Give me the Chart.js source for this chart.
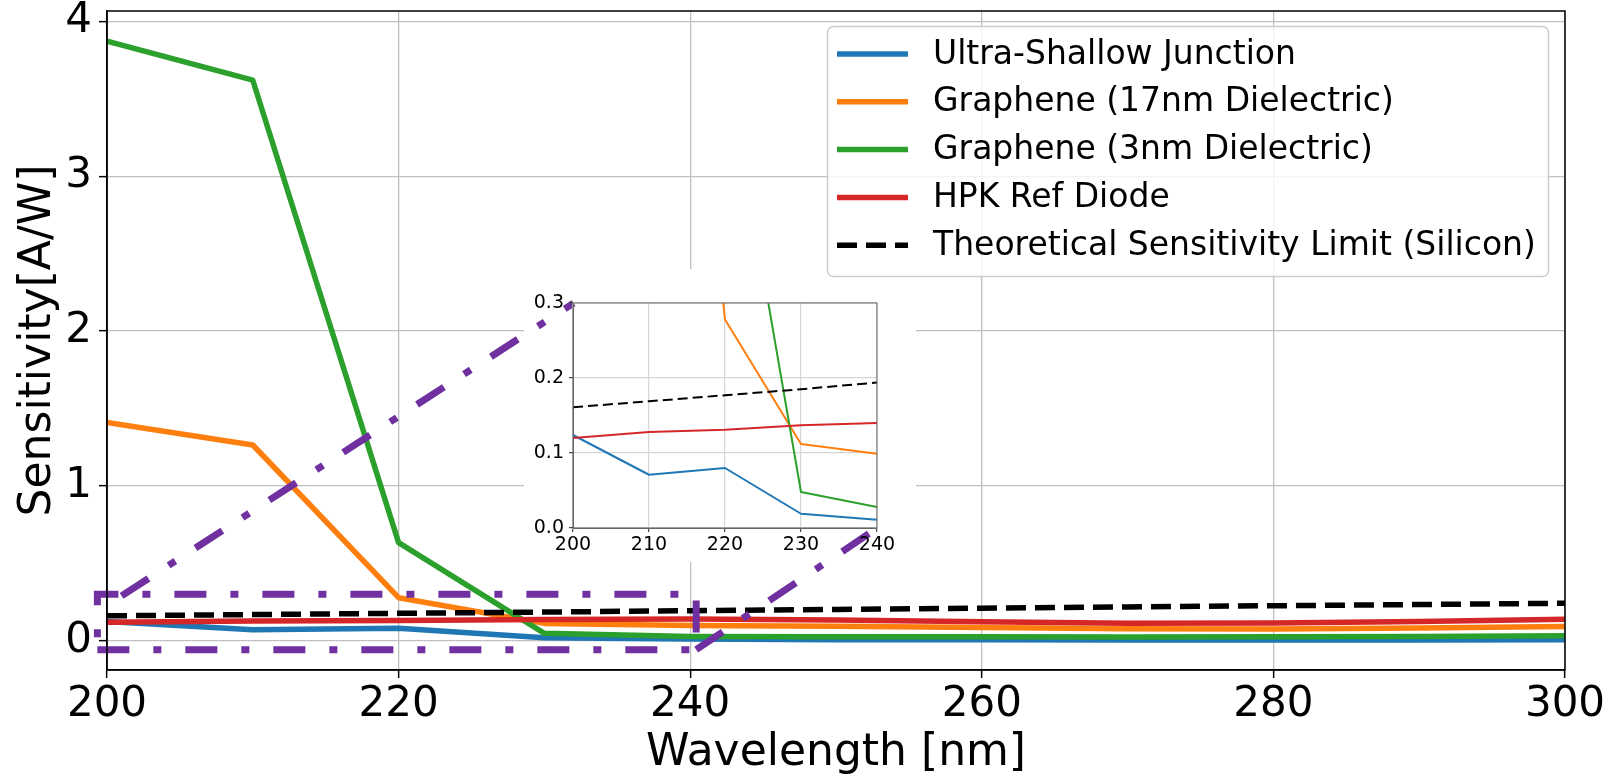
<!DOCTYPE html>
<html>
<head>
<meta charset="utf-8">
<title>Sensitivity vs Wavelength</title>
<script src="https://cdn.jsdelivr.net/npm/chart.js@4.4.1/dist/chart.umd.min.js"></script>
<style>
  html, body { margin: 0; padding: 0; background: #fff; }
  #wrap { position: relative; width: 1608px; height: 776px; }
  #main { position: absolute; left: 0; top: 0; }
  #inset { position: absolute; left: 524px; top: 269px; }
</style>
</head>
<body>
<div id="wrap">
  <canvas id="main" width="1608" height="776"></canvas>
  <canvas id="inset" width="392" height="293"></canvas>
</div>
<script>
// ── Data ───────────────────────────────────────────────────────────
const wavelengths = [200, 210, 220, 230, 240, 250, 260, 270, 280, 290, 300];

const usjValues        = [0.124, 0.071, 0.080, 0.019, 0.011, 0.007, 0.006, 0.005, 0.005, 0.005, 0.006];
const graphene17Values = [1.409, 1.264, 0.278, 0.112, 0.099, 0.093, 0.086, 0.077, 0.075, 0.082, 0.092];
const graphene3Values  = [3.873, 3.620, 0.634, 0.048, 0.028, 0.026, 0.025, 0.024, 0.025, 0.027, 0.032];
const hpkValues        = [0.120, 0.128, 0.131, 0.137, 0.140, 0.134, 0.123, 0.113, 0.115, 0.125, 0.138];
const limitValues      = [0.161, 0.169, 0.177, 0.185, 0.194, 0.202, 0.210, 0.218, 0.226, 0.234, 0.242];

const seriesNames = [
  'Ultra-Shallow Junction',
  'Graphene (17nm Dielectric)',
  'Graphene (3nm Dielectric)',
  'HPK Ref Diode',
  'Theoretical Sensitivity Limit (Silicon)'
];

// zoom box + connector lines, in main-axes data units
const zoomBoxX = [199.34, 240.41, 240.41, 199.34, 199.34];
const zoomBoxY = [-0.058, -0.058, 0.30, 0.30, -0.058];
const connectorAX = [201.0, 232.0];
const connectorAY = [0.29, 2.18];
const connectorBX = [240.41, 252.8];
const connectorBY = [-0.058, 0.726];

// ticks
const mainXTicks = [200, 220, 240, 260, 280, 300];
const mainYTicks = [0, 1, 2, 3, 4];
const insetXTicks = [200, 210, 220, 230, 240];
const insetYTicks = [0.0, 0.1, 0.2, 0.3];
const insetYLabels = ['0.0', '0.1', '0.2', '0.3'];

// ── Styles ─────────────────────────────────────────────────────────
const FONT = '"DejaVu Sans", sans-serif';
const seriesValues = [usjValues, graphene17Values, graphene3Values, hpkValues, limitValues];
const seriesColors = ['#1f77b4', '#ff7f0e', '#2ca02c', '#d62728', '#000000'];
const seriesOrder = [5, 4, 3, 2, 1];   // lower = drawn on top
const mainDash = [[], [], [], [], [20, 9]];
const insetDash = [[], [], [], [], [10, 5]];
const ZOOM_PURPLE = '#7030a0';
const GRID = '#c0c0c0';

function points(xs, ys) {
  return xs.map(function (x, i) { return { x: x, y: ys[i] }; });
}

function fixedTicks(values) {
  return function (scale) {
    scale.ticks = values.map(function (v) { return { value: v }; });
  };
}

function noPadding(scale) {
  scale.paddingTop = 0;
  scale.paddingBottom = 0;
  scale.paddingLeft = 0;
  scale.paddingRight = 0;
}

// ── Plugins ────────────────────────────────────────────────────────
// white patch behind the inset, over the main grid
const insetBackdrop = {
  id: 'insetBackdrop',
  beforeDatasetsDraw(chart) {
    const ctx = chart.ctx;
    ctx.save();
    ctx.fillStyle = '#ffffff';
    ctx.fillRect(524, 269, 392, 293);
    ctx.restore();
  }
};

function framePlugin(color, width) {
  return {
    id: 'frame',
    afterDatasetsDraw(chart) {
      const a = chart.chartArea;
      const ctx = chart.ctx;
      ctx.save();
      ctx.strokeStyle = color;
      ctx.lineWidth = width;
      ctx.strokeRect(a.left, a.top, a.right - a.left, a.bottom - a.top);
      ctx.restore();
    }
  };
}

const boxLegend = {
  id: 'boxLegend',
  afterDraw(chart) {
    const ctx = chart.ctx;
    ctx.save();
    ctx.beginPath();
    ctx.roundRect(827.5, 26.5, 721, 250, 6);
    ctx.fillStyle = 'rgba(255,255,255,0.8)';
    ctx.fill();
    ctx.strokeStyle = '#cccccc';
    ctx.lineWidth = 1.5;
    ctx.stroke();

    ctx.font = '33px ' + FONT;
    ctx.textBaseline = 'middle';
    seriesNames.forEach(function (name, i) {
      const y = 54 + i * 47.8;
      ctx.beginPath();
      ctx.setLineDash(mainDash[i]);
      ctx.strokeStyle = seriesColors[i];
      ctx.lineWidth = 5.5;
      ctx.moveTo(837, y);
      ctx.lineTo(908, y);
      ctx.stroke();
      ctx.setLineDash([]);
      ctx.fillStyle = '#000';
      ctx.fillText(name, 933, y + 1);
    });
    ctx.restore();
  }
};

// ── Main Chart ─────────────────────────────────────────────────────
const zoomStyle = {
  borderColor: ZOOM_PURPLE,
  borderWidth: 7,
  borderDash: [32, 24, 8, 24],
  borderJoinStyle: 'miter',
  pointRadius: 0,
  fill: false,
  clip: false,
  order: 0
};

const mainSets = seriesValues.map(function (vals, i) {
  return {
    label: seriesNames[i],
    data: points(wavelengths, vals),
    borderColor: seriesColors[i],
    borderWidth: 5.5,
    borderDash: mainDash[i],
    borderJoinStyle: 'round',
    pointRadius: 0,
    fill: false,
    order: seriesOrder[i]
  };
});

mainSets.push(Object.assign({ label: 'zoom box', data: points(zoomBoxX, zoomBoxY) }, zoomStyle));
mainSets.push(Object.assign({ label: 'connector A', data: points(connectorAX, connectorAY) }, zoomStyle));
mainSets.push(Object.assign({ label: 'connector B', data: points(connectorBX, connectorBY) }, zoomStyle));

new Chart(document.getElementById('main'), {
  type: 'line',
  data: { datasets: mainSets },
  options: {
    responsive: false,
    animation: false,
    devicePixelRatio: 1,
    events: [],
    layout: { padding: { top: 11, right: 43, left: 0, bottom: 0 } },
    plugins: { legend: { display: false }, tooltip: { enabled: false } },
    scales: {
      x: {
        type: 'linear',
        min: 200,
        max: 300,
        afterBuildTicks: fixedTicks(mainXTicks),
        afterFit: function (s) { s.height = 106; noPadding(s); },
        ticks: { font: { family: FONT, size: 42 }, color: '#000', padding: 2, maxRotation: 0, autoSkip: false },
        grid: { color: GRID, lineWidth: 1.3, tickColor: '#000', tickLength: 8, tickWidth: 1.5 },
        border: { color: '#000', width: 1.5 },
        title: {
          display: true, text: 'Wavelength [nm]', color: '#000',
          font: { family: FONT, size: 44, lineHeight: 1 }, padding: { top: 0, bottom: 0 }
        }
      },
      y: {
        type: 'linear',
        min: -0.189,
        max: 4.067,
        afterBuildTicks: fixedTicks(mainYTicks),
        afterFit: function (s) { s.width = 107; noPadding(s); },
        ticks: { font: { family: FONT, size: 42 }, color: '#000', padding: 7, autoSkip: false },
        grid: { color: GRID, lineWidth: 1.3, tickColor: '#000', tickLength: 8, tickWidth: 1.5 },
        border: { color: '#000', width: 1.5 },
        title: {
          display: true, text: 'Sensitivity[A/W]', color: '#000',
          font: { family: FONT, size: 44, lineHeight: 1 }, padding: { top: 17, bottom: 0 }
        }
      }
    }
  },
  plugins: [insetBackdrop, framePlugin('#000', 1.5), boxLegend]
});

// ── Inset Chart ────────────────────────────────────────────────────
const insetSets = seriesValues.map(function (vals, i) {
  return {
    label: seriesNames[i],
    data: points(wavelengths, vals),
    borderColor: seriesColors[i],
    borderWidth: 2,
    borderDash: insetDash[i],
    borderJoinStyle: 'round',
    pointRadius: 0,
    fill: false,
    order: seriesOrder[i]
  };
});

new Chart(document.getElementById('inset'), {
  type: 'line',
  data: { datasets: insetSets },
  options: {
    responsive: false,
    animation: false,
    devicePixelRatio: 1,
    events: [],
    layout: { padding: { top: 34, right: 39, left: 0, bottom: 0 } },
    plugins: { legend: { display: false }, tooltip: { enabled: false } },
    scales: {
      x: {
        type: 'linear',
        min: 200,
        max: 240,
        afterBuildTicks: fixedTicks(insetXTicks),
        afterFit: function (s) { s.height = 34; noPadding(s); },
        ticks: { font: { family: FONT, size: 19 }, color: '#000', padding: 2, maxRotation: 0, autoSkip: false },
        grid: { color: '#d6d6d6', lineWidth: 1.2, tickColor: '#444', tickLength: 4 },
        border: { color: '#666', width: 1 }
      },
      y: {
        type: 'linear',
        min: 0,
        max: 0.3,
        afterBuildTicks: fixedTicks(insetYTicks),
        afterFit: function (s) { s.width = 49; noPadding(s); },
        ticks: {
          font: { family: FONT, size: 19 }, color: '#000', padding: 5, autoSkip: false,
          callback: function (v) { return insetYLabels[insetYTicks.indexOf(v)]; }
        },
        grid: { color: '#d6d6d6', lineWidth: 1.2, tickColor: '#444', tickLength: 4 },
        border: { color: '#666', width: 1 }
      }
    }
  },
  plugins: [framePlugin('#666', 1)]
});
</script>
</body>
</html>
